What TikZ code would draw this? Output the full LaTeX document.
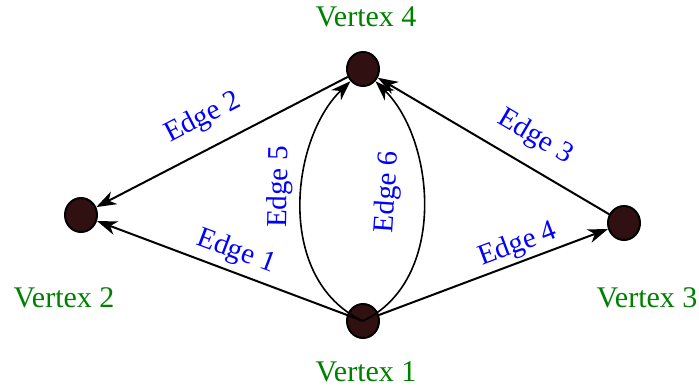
\documentclass[tikz,border=0pt]{standalone}
\usepackage{fontspec}
\setmainfont{Liberation Serif}
\newfontfamily\tmsfont{Liberation Serif}
\usetikzlibrary{arrows.meta,shapes.geometric}
\definecolor{vfill}{RGB}{48,16,16}
\definecolor{vgreen}{RGB}{0,128,0}
\begin{document}
\begin{tikzpicture}[x=1pt,y=-1pt,
  vertex/.style={draw=black,line width=2pt,fill=vfill,ellipse,minimum width=32pt,minimum height=34pt,inner sep=0pt},
  vlabel/.style={text=vgreen,font=\tmsfont\fontsize{30}{36}\selectfont,inner sep=0pt},
  elabel/.style={text=blue,font=\tmsfont\fontsize{29}{34}\selectfont,inner sep=0pt},
  arr/.style={draw=black,line width=2pt,-{Stealth[length=20pt,width=14pt,inset=6pt]}},
  carr/.style={draw=black,line width=1.6pt,-{Stealth[length=20pt,width=14pt,inset=6pt]}}]
\useasboundingbox (0,0) rectangle (699,389);
\node[vertex] (v4) at (363,69) {};
\node[vertex] (v2) at (81,215) {};
\node[vertex] (v3) at (624,223) {};
\node[vertex] (v1) at (363,321) {};
\node[vlabel] (l4) at (366,17) {Vertex 4};
\node[vlabel] (l2) at (64,298) {Vertex 2};
\node[vlabel] (l3) at (647,298) {Vertex 3};
\node[vlabel] (l1) at (366,372) {Vertex 1};
\draw[arr] (v4) -- (v2);
\draw[arr] (v1.center) -- (v2);
\draw[arr] (v3) -- (v4);
\draw[arr] (v1) -- (v3);
\draw[carr] (v1.center) .. controls (275,280) and (290,140) .. (v4);
\draw[carr] (v1.center) .. controls (448,280) and (435,140) .. (v4);
\node[elabel,rotate=27.4] (e2) at (203,118) {Edge 2};
\node[elabel,rotate=-20.6] (e1) at (236,252) {Edge 1};
\node[elabel,rotate=-30.5] (e3) at (535,137) {Edge 3};
\node[elabel,rotate=20.6] (e4) at (518,245) {Edge 4};
\node[elabel,rotate=89] (e5) at (280,187) {Edge 5};
\node[elabel,rotate=86] (e6) at (388,192) {Edge 6};
\end{tikzpicture}
\end{document}
